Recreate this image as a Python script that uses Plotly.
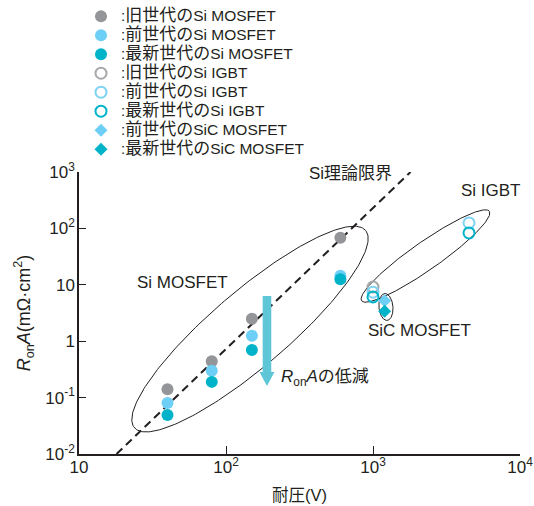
import numpy as np
import plotly.graph_objects as go

# ---------------- data ----------------
mos_v = [40, 80, 150, 600]
mos_old = [0.14, 0.44, 2.5, 68]
mos_prev = [0.08, 0.30, 1.25, 14.5]
mos_new = [0.049, 0.19, 0.70, 12.5]

igbt_old_v = [1000]
igbt_old = [9.1]
igbt_v = [1000, 4500]
igbt_prev = [7.4, 125]
igbt_new = [6.1, 83]

sic_v = [1200]
sic_prev = [5.2]
sic_new = [3.4]

limit_v = [18, 1800]
limit_r = [0.01, 1000]

x_tickvals = [10, 100, 1000, 10000]
x_ticktext = ["10", "10<sup>2</sup>", "10<sup>3</sup>", "10<sup>4</sup>"]
y_tickvals = [0.01, 0.1, 1, 10, 100, 1000]
y_ticktext = ["10<sup>-2</sup>", "10<sup>-1</sup>", "1", "10", "10<sup>2</sup>", "10<sup>3</sup>"]

# ---------------- layout constants ----------------
W, H = 534, 506
ML, MR, MT, MB = 79, 14, 172, 52
XR = [1, 4]
YR = [-2, 3]
PW, PH = W - ML - MR, H - MT - MB
PPD_X = PW / (XR[1] - XR[0])
PPD_Y = PH / (YR[1] - YR[0])

GRAY = "#939598"
GRAY_O = "#a7a9ac"
LIGHT = "#6dcff6"
TEAL = "#00b3c9"
ARROW = "#5ec6d6"
INK = "#231f20"
FONT = "Liberation Sans, Noto Sans CJK JP"


def lg(name_jp, name_en):
    return ('<span style="font-size:15px">:</span>'
            f'<span style="font-size:17px">{name_jp}</span>'
            f'<span style="font-size:15.5px">{name_en}</span>')


def ellipse(cx, cy, a, b, ang, n=240):
    t = np.linspace(0, 2 * np.pi, n)
    th = np.deg2rad(ang)
    px = a * np.cos(t) * np.cos(th) - b * np.sin(t) * np.sin(th)
    py = a * np.cos(t) * np.sin(th) + b * np.sin(t) * np.cos(th)
    return 10 ** (np.log10(cx) + px / PPD_X), 10 ** (np.log10(cy) + py / PPD_Y)


fig = go.Figure()

# theoretical limit
fig.add_trace(go.Scatter(x=limit_v, y=limit_r, mode="lines",
                         line=dict(color=INK, width=2, dash="8px,5px"),
                         showlegend=False, hoverinfo="skip"))

# group ellipses
for (cx, cy, a, b, ang) in [(145.6, 1.64, 152, 38, 40.5),
                            (2275, 32.4, 78, 14, 35),
                            (1225, 4.04, 13.5, 7, 95)]:
    ex, ey = ellipse(cx, cy, a, b, ang)
    fig.add_trace(go.Scatter(x=ex, y=ey, mode="lines",
                             line=dict(color=INK, width=1),
                             showlegend=False, hoverinfo="skip"))

filled = dict(size=12, line=dict(width=0))
fig.add_trace(go.Scatter(x=mos_v, y=mos_old, mode="markers", name=lg("旧世代の", "Si MOSFET"),
                         marker=dict(color=GRAY, **filled)))
fig.add_trace(go.Scatter(x=mos_v, y=mos_prev, mode="markers", name=lg("前世代の", "Si MOSFET"),
                         marker=dict(color=LIGHT, **filled)))
fig.add_trace(go.Scatter(x=mos_v, y=mos_new, mode="markers", name=lg("最新世代の", "Si MOSFET"),
                         marker=dict(color=TEAL, **filled)))

fig.add_trace(go.Scatter(x=igbt_old_v, y=igbt_old, mode="markers", name=lg("旧世代の", "Si IGBT"),
                         marker=dict(symbol="circle-open", size=11, line=dict(width=2), color=GRAY_O)))
fig.add_trace(go.Scatter(x=igbt_v, y=igbt_prev, mode="markers", name=lg("前世代の", "Si IGBT"),
                         marker=dict(symbol="circle-open", size=11, line=dict(width=2), color="#7fd3f2")))
fig.add_trace(go.Scatter(x=igbt_v, y=igbt_new, mode="markers", name=lg("最新世代の", "Si IGBT"),
                         marker=dict(symbol="circle-open", size=11, line=dict(width=2), color=TEAL)))

fig.add_trace(go.Scatter(x=sic_v, y=sic_prev, mode="markers", name=lg("前世代の", "SiC MOSFET"),
                         marker=dict(symbol="diamond", size=10, color=LIGHT, line=dict(width=0))))
fig.add_trace(go.Scatter(x=sic_v, y=sic_new, mode="markers", name=lg("最新世代の", "SiC MOSFET"),
                         marker=dict(symbol="diamond", size=10, color=TEAL, line=dict(width=0))))

# arrow (R_on A reduction)
fig.add_shape(type="path", xref="x", yref="y", xsizemode="pixel", ysizemode="pixel",
              xanchor=190, yanchor=6.3,
              path="M-4.3,0 L4.3,0 L4.3,-76 L7.5,-76 L0,-90 L-7.5,-76 L-4.3,-76 Z",
              fillcolor=ARROW, line=dict(width=0), layer="above")

ann = dict(showarrow=False, font=dict(family=FONT, size=17, color=INK))
fig.add_annotation(x=np.log10(50.6), y=np.log10(10.8), text="Si MOSFET", **ann)
fig.add_annotation(x=np.log10(700), y=np.log10(955), text="Si理論限界", **ann)
fig.add_annotation(x=np.log10(6350), y=np.log10(479), text="Si IGBT", **ann)
fig.add_annotation(x=np.log10(2056), y=np.log10(1.52), text="SiC MOSFET", **ann)
fig.add_annotation(x=np.log10(229), y=np.log10(0.223), xanchor="left",
                   text="<i>R</i><sub>on</sub><i>A</i>の低減", **ann)

axis_common = dict(type="log", showgrid=False, zeroline=False, showline=True,
                   linecolor=INK, linewidth=1.5, ticks="inside", tickcolor=INK,
                   tickwidth=1.2, automargin=False,
                   tickfont=dict(family=FONT, size=17, color=INK))

fig.update_layout(
    width=W, height=H,
    margin=dict(l=ML, r=MR, t=MT, b=MB, pad=0, autoexpand=False),
    paper_bgcolor="white", plot_bgcolor="white",
    font=dict(family=FONT, color=INK),
    xaxis=dict(range=XR, tickvals=x_tickvals, ticktext=x_ticktext, ticklen=8,
               ticklabelstandoff=-3,
               title=dict(text="耐圧(V)", font=dict(size=16.5), standoff=13),
               **axis_common),
    yaxis=dict(range=YR, tickvals=y_tickvals, ticktext=y_ticktext, ticklen=7,
               ticklabelstandoff=-1,
               title=dict(text="<i>R</i><sub>on</sub><i>A</i>(mΩ·cm<sup>2</sup>)",
                          font=dict(size=18), standoff=10),
               **axis_common),
    legend=dict(x=(81 - ML) / PW, y=(H - MB - 1.7) / PH,
                xanchor="left", yanchor="top", bgcolor="rgba(0,0,0,0)",
                font=dict(family=FONT, size=12, color=INK), itemwidth=30,
                tracegroupgap=0),
)

fig.write_html("out.html", config={"displayModeBar": False},
               post_script="document.body.style.margin='0';")
